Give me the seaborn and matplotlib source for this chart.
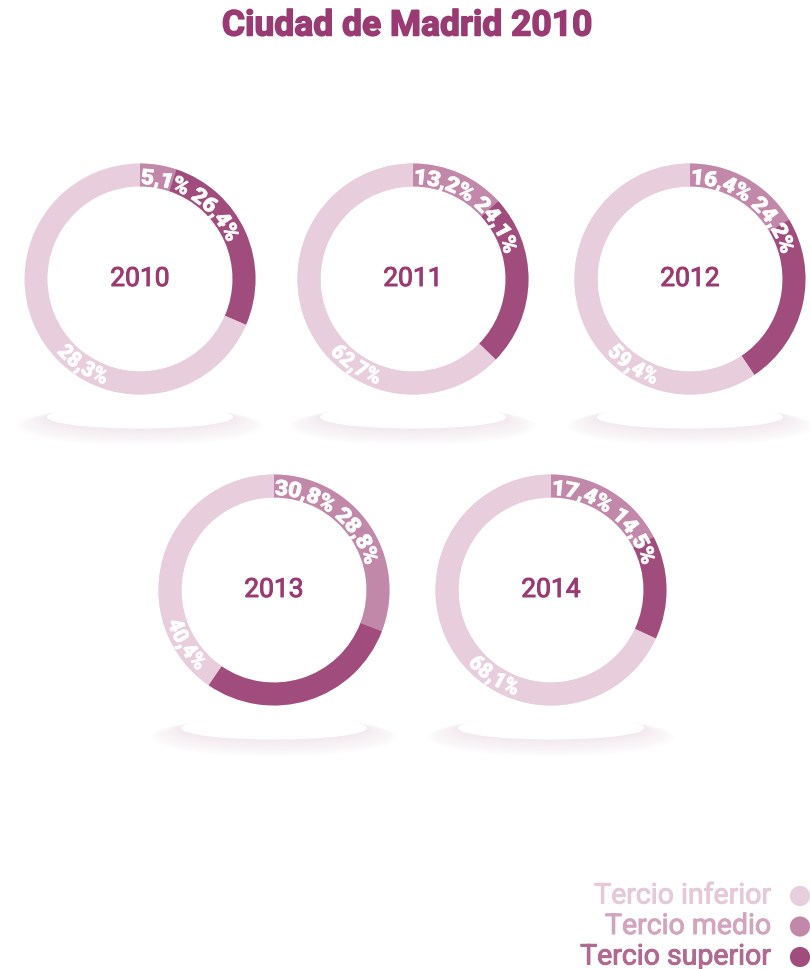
import numpy as np
import matplotlib
matplotlib.use("Agg")
import matplotlib.pyplot as plt
import matplotlib.patheffects as pe
import seaborn as sns
from matplotlib.textpath import TextPath
from matplotlib.font_manager import FontProperties
from matplotlib.patches import PathPatch, Ellipse
from matplotlib.path import Path

# Datos: distribución por tercios de renta (%)
years = ["2010", "2011", "2012", "2013", "2014"]
tercio_inferior = [28.3, 62.7, 59.4, 40.4, 68.1]
tercio_medio = [5.1, 13.2, 16.4, 30.8, 17.4]
tercio_superior = [26.4, 24.1, 24.2, 28.8, 14.5]
legend_labels = ["Tercio inferior", "Tercio medio", "Tercio superior"]
title = "Ciudad de Madrid 2010"

W, H = 810, 970
sns.set_theme(style="white")
plt.rcParams["font.family"] = ["Roboto", "DejaVu Sans"]

pal = sns.color_palette(["#E8CEDD", "#C288AA", "#A04D7E"])
PURPLE = "#9A3A73"

# centros de los donuts (en píxeles, y hacia abajo)
centers = [(140, 280), (413, 280), (690, 280), (274, 591), (551, 591)]
R_OUT, WIDTH = 115.5, 23
FS_PCT = 21.5

fp_bold = FontProperties(family="Roboto", weight="heavy")


def fmt(v):
    return f"{v:.1f}".replace(".", ",") + "%"


def arc_text(ax, s, cx, cy, r_base, theta_deg, flip=False, center=False):
    tp = TextPath((0, 0), s, size=FS_PCT, prop=fp_bold)
    v = tp.vertices.copy()
    span = tp.get_extents().width / r_base
    t0 = np.radians(theta_deg)
    if center:
        t0 = t0 + (span / 2 if flip else -span / 2)
    if not flip:
        th = t0 + v[:, 0] / r_base
        rad = r_base + v[:, 1]
    else:
        th = t0 - v[:, 0] / r_base
        rad = r_base - v[:, 1]
    X = cx + rad * np.sin(th)
    Y = cy + rad * np.cos(th)
    path = Path(np.column_stack([X, Y]), tp.codes)
    ax.add_patch(PathPatch(path, facecolor="white", edgecolor="white",
                           linewidth=0.5, zorder=6))


fig = plt.figure(figsize=(W / 100, H / 100), dpi=100)
ax = fig.add_axes([0, 0, 1, 1])

for i, yr in enumerate(years):
    cx, cyi = centers[i]
    cy = H - cyi

    # sombra
    for k in range(10):
        f = k / 9
        ax.add_patch(Ellipse((cx, cy - 147 + 8 * f), 246 - 60 * f, 38 - 14 * f,
                             facecolor="#EEDDE7", edgecolor="none", alpha=0.07, zorder=1))
    ax.add_patch(Ellipse((cx, cy - 138), 186, 23, facecolor="white",
                         edgecolor="none", zorder=2))

    # anillo de fondo
    ax.pie([1], colors=[pal[0]], center=(cx, cy), radius=R_OUT,
           wedgeprops=dict(width=WIDTH, linewidth=0), startangle=90,
           counterclock=False)
    vals = [tercio_medio[i] / 100, tercio_superior[i] / 100, tercio_inferior[i] / 100]
    total = sum(vals)
    ax.pie(vals, colors=[pal[1], pal[2], pal[0]], center=(cx, cy), radius=R_OUT,
           wedgeprops=dict(width=WIDTH, linewidth=0), startangle=90,
           counterclock=False, normalize=total > 0.999)

    # etiquetas
    arc_text(ax, fmt(tercio_medio[i]) + " " + fmt(tercio_superior[i]),
             cx, cy, 95, 0.5)
    frac = total if total > 0.999 else 1
    start_inf = 360 * (vals[0] + vals[1]) / frac
    arc_text(ax, fmt(tercio_inferior[i]), cx, cy, 111,
             max(214, start_inf + 24), flip=True, center=True)

    ax.text(cx, cy, yr, ha="center", va="center", fontsize=19,
            color=PURPLE, zorder=7,
            path_effects=[pe.withStroke(linewidth=0.7, foreground=PURPLE)])

ax.text(407, H - 27, title, ha="center", va="center", fontsize=25.5,
        fontweight="bold", color=PURPLE,
        path_effects=[pe.withStroke(linewidth=1.1, foreground=PURPLE)])

# leyenda
txt_colors = ["#E6C9D9", "#D2A5BF", "#B06993"]
for j, lab in enumerate(legend_labels):
    yy = H - (897 + 30.5 * j)
    ax.scatter([800], [yy], s=210, color=pal[j], edgecolor="none", zorder=5)
    ax.text(771, yy, lab, ha="right", va="center", fontsize=20.5,
            color=txt_colors[j],
            path_effects=[pe.withStroke(linewidth=0.7, foreground=txt_colors[j])])

ax.set_xlim(0, W)
ax.set_ylim(0, H)
ax.set_aspect("equal")
ax.axis("off")
fig.savefig("out.png", dpi=100, facecolor="white")
